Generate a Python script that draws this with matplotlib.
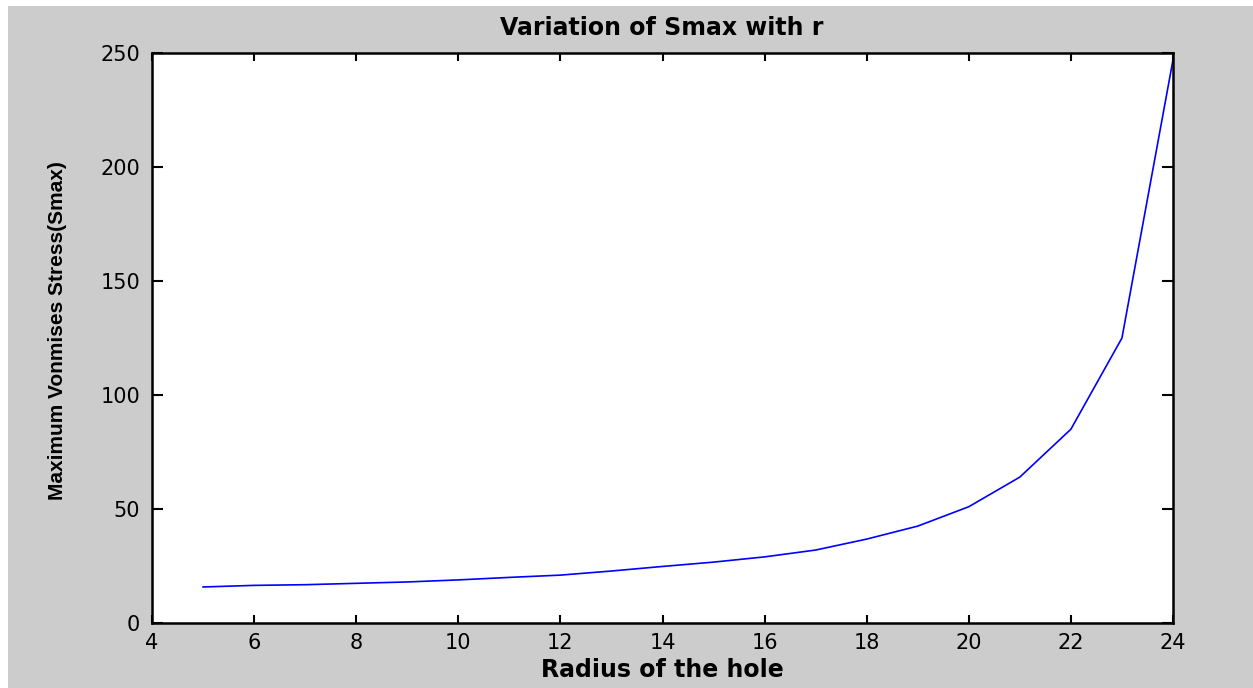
import matplotlib
matplotlib.use("Agg")
import matplotlib.pyplot as plt
from matplotlib.patches import Rectangle

radius = [5, 6, 7, 8, 9, 10, 11, 12, 13, 14, 15, 16, 17, 18, 19, 20, 21, 22, 23, 24]
smax = [15.8, 16.5, 16.8, 17.4, 18.0, 18.9, 20.0, 21.0, 22.8, 24.8, 26.7, 29.0,
        32.0, 36.8, 42.5, 51.0, 64.0, 85.0, 125.0, 247.0]
xticks = [4, 6, 8, 10, 12, 14, 16, 18, 20, 22, 24]
yticks = [0, 50, 100, 150, 200, 250]

plt.rcParams['font.family'] = ['DejaVu Sans']

W, H = 1253, 688
fig = plt.figure(figsize=(W / 100, H / 100), dpi=100)
fig.patch.set_facecolor('white')
fig.patches.append(Rectangle((8 / W, 0), 1, (H - 6) / H, transform=fig.transFigure,
                             facecolor='#cccccc', edgecolor='none', zorder=-10))

ax = fig.add_axes([152 / W, (H - 623) / H, (1173 - 152) / W, (623 - 53) / H])
ax.set_facecolor('white')
ax.plot(radius, smax, color='#0000ff', linewidth=1.2)
ax.set_xlim(4, 24)
ax.set_ylim(0, 250)
ax.set_xticks(xticks)
ax.set_yticks(yticks)
ax.tick_params(direction='in', width=1.5, top=True, right=True,
               labelsize=15, colors='black')
ax.tick_params(axis='x', length=6, pad=7)
ax.tick_params(axis='y', length=8, pad=8.5)
for s in ax.spines.values():
    s.set_linewidth(1.8)
    s.set_color('black')

fig.text(662 / W, 1 - 28 / H, 'Variation of Smax with r', ha='center', va='center',
         fontsize=17, fontweight='bold')
fig.text(662 / W, 1 - 670 / H, 'Radius of the hole', ha='center', va='center',
         fontsize=17, fontweight='bold')
fig.text(58 / W, 1 - 331 / H, 'Maximum Vonmises Stress(Smax)', ha='center', va='center',
         rotation=90, fontsize=15, fontweight='bold', family='Liberation Sans')

fig.savefig('out.png', dpi=100, facecolor=fig.get_facecolor())
